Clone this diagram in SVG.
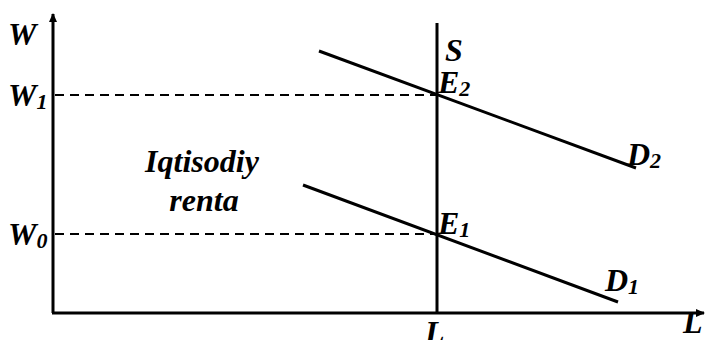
<svg xmlns="http://www.w3.org/2000/svg" width="711" height="340" viewBox="0 0 711 340">
<style>
.lbl{font-family:"Liberation Serif","DejaVu Serif","Times New Roman",serif;font-weight:700;font-style:italic;font-size:32px;fill:#000}
.sub{font-size:22px}
.ax{stroke:#000;stroke-width:3;fill:none}
.ln{stroke:#000;stroke-width:3;fill:none}
.dash{stroke:#000;stroke-width:2;stroke-dasharray:9,6;fill:none}
</style>
<defs>
<marker id="arr" markerWidth="10" markerHeight="10" refX="8" refY="5" orient="auto" markerUnits="userSpaceOnUse">
<path d="M0,1 L9,5 L0,9 Z" fill="#000"/>
</marker>
</defs>
<g id="connectors">
<line class="ax" x1="53" y1="313" x2="53" y2="14" marker-end="url(#arr)"/>
<line class="ax" x1="52" y1="313" x2="704" y2="313" marker-end="url(#arr)"/>
<line class="ln" x1="437" y1="23" x2="437" y2="313"/>
<line class="dash" x1="55" y1="95" x2="437" y2="95"/>
<line class="dash" x1="55" y1="234" x2="437" y2="234"/>
<line class="ln" x1="319" y1="51" x2="636" y2="168"/>
<line class="ln" x1="303" y1="185" x2="618" y2="302"/>
</g>
<g id="label-W"><text class="lbl" x="8" y="45">W</text></g>
<g id="label-W1"><text class="lbl" x="8" y="106">W<tspan class="sub" dy="3">1</tspan></text></g>
<g id="label-W0"><text class="lbl" x="8" y="245">W<tspan class="sub" dy="3">0</tspan></text></g>
<g id="label-S"><text class="lbl" x="445" y="61">S</text></g>
<g id="label-E2"><text class="lbl" x="438" y="93">E<tspan class="sub" dy="3">2</tspan></text></g>
<g id="label-E1"><text class="lbl" x="438" y="234">E<tspan class="sub" dy="3">1</tspan></text></g>
<g id="label-D2"><text class="lbl" x="627" y="165">D<tspan class="sub" dy="3">2</tspan></text></g>
<g id="label-D1"><text class="lbl" x="605" y="291">D<tspan class="sub" dy="3">1</tspan></text></g>
<g id="label-L"><text class="lbl" x="425" y="343">L</text></g>
<g id="label-Laxis"><text class="lbl" x="683" y="333">L</text></g>
<g id="label-renta"><text class="lbl" text-anchor="middle" x="202" y="172">Iqtisodiy</text><text class="lbl" text-anchor="middle" x="204" y="211">renta</text></g>
</svg>
